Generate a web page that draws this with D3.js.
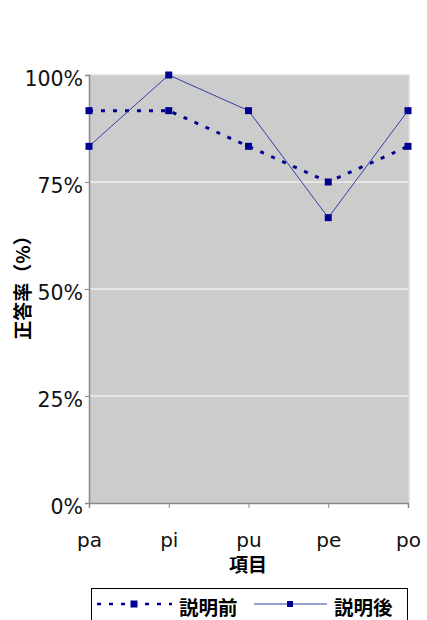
<!DOCTYPE html>
<html><head><meta charset="utf-8">
<script src="https://cdn.jsdelivr.net/npm/d3@7"></script>
<style>body{margin:0;background:#fff}svg{display:block}</style>
</head><body>
<script>
const categories = ["pa","pi","pu","pe","po"];
const before = [91.67, 91.67, 83.33, 75, 83.33];
const after = [83.33, 100, 91.67, 66.67, 91.67];
const yTicks = [0, 25, 50, 75, 100];
const seriesNames = ["説明前","説明後"];

(function(){
const W = 427, H = 620;
const svg = d3.select("body").append("svg").attr("width", W).attr("height", H);
const pL = 89, pR = 409, pT = 75, pB = 503;
const font = "'DejaVu Sans', Verdana, sans-serif";
const cjk = "'Noto Sans CJK JP', sans-serif";
const navy = "#000090";

const x = d3.scalePoint().domain(categories).range([pL, pR - 1]).padding(0);
const y = d3.scaleLinear().domain([0, 100]).range([pB, pT]);

svg.append("rect").attr("x", pL).attr("y", pT).attr("width", pR - pL).attr("height", pB - pT).attr("fill", "#cccccc");

svg.append("g").selectAll("line").data(yTicks.filter(d => d > 0)).join("line")
  .attr("x1", pL).attr("x2", pR).attr("y1", d => y(d)).attr("y2", d => y(d))
  .attr("stroke", d => d === 100 ? "#dddddd" : "#eeeeee").attr("stroke-width", 1.5);
svg.append("line").attr("x1", pR).attr("x2", pR).attr("y1", pT).attr("y2", pB)
  .attr("stroke", "#dddddd").attr("stroke-width", 1.5);

const yAxis = svg.append("g").attr("transform", `translate(${pL},0)`)
  .call(d3.axisLeft(y).tickValues(yTicks).tickFormat(d => d + "%").tickSize(4).tickPadding(2));
yAxis.select(".domain").attr("stroke", "#888").attr("stroke-width", 1.5);
yAxis.selectAll(".tick line").attr("stroke", "#888");
yAxis.selectAll("text").attr("font-family", font).attr("font-size", 20.5).attr("fill", "#111").attr("dy", "0.72em")
  .attr("y", -4);

const xAxis = svg.append("g").attr("transform", `translate(0,${pB})`)
  .call(d3.axisBottom(x).tickSize(5).tickPadding(25));
xAxis.select(".domain").attr("stroke", "#888").attr("stroke-width", 1.5);
xAxis.selectAll(".tick line").attr("stroke", "#888");
xAxis.selectAll("text").attr("font-family", font).attr("font-size", 20).attr("fill", "#111");

svg.append("text").attr("x", 248).attr("y", 572).attr("text-anchor", "middle")
  .attr("font-family", cjk).attr("font-weight", "bold").attr("font-size", 19).text("項目");
svg.append("text").attr("transform", "translate(30,283) rotate(-90)").attr("text-anchor", "middle")
  .attr("font-family", cjk).attr("font-weight", "bold").attr("font-size", 19).text("正答率（%）");

const line = d3.line().x((d, i) => x(categories[i])).y(d => y(d));
svg.append("path").datum(before).attr("d", line).attr("fill", "none")
  .attr("stroke", navy).attr("stroke-width", 3).attr("stroke-dasharray", "4,8");
svg.append("path").datum(after).attr("d", line).attr("fill", "none")
  .attr("stroke", "#3040a8").attr("stroke-width", 1);

const ms = 7;
[before, after].forEach(s => {
  svg.append("g").selectAll("rect").data(s).join("rect")
    .attr("x", (d, i) => x(categories[i]) - ms / 2).attr("y", d => y(d) - ms / 2)
    .attr("width", ms).attr("height", ms).attr("fill", navy);
});

svg.append("rect").attr("x", 91.5).attr("y", 588.5).attr("width", 316).attr("height", 40)
  .attr("fill", "#fff").attr("stroke", "#000").attr("stroke-width", 1);
const ly = 604;
svg.append("line").attr("x1", 97).attr("x2", 172).attr("y1", ly).attr("y2", ly)
  .attr("stroke", navy).attr("stroke-width", 2.5).attr("stroke-dasharray", "4,8");
svg.append("rect").attr("x", 134 - ms / 2).attr("y", ly - ms / 2).attr("width", ms).attr("height", ms).attr("fill", navy);
svg.append("text").attr("x", 179).attr("y", 615).attr("font-family", cjk).attr("font-weight", "bold")
  .attr("font-size", 19.5).text(seriesNames[0]);
svg.append("line").attr("x1", 254).attr("x2", 327).attr("y1", ly).attr("y2", ly)
  .attr("stroke", "#3040a8").attr("stroke-width", 1);
svg.append("rect").attr("x", 290 - 3).attr("y", ly - 3).attr("width", 6).attr("height", 6).attr("fill", navy);
svg.append("text").attr("x", 334).attr("y", 615).attr("font-family", cjk).attr("font-weight", "bold")
  .attr("font-size", 19.5).text(seriesNames[1]);
})();
</script>
</body></html>
